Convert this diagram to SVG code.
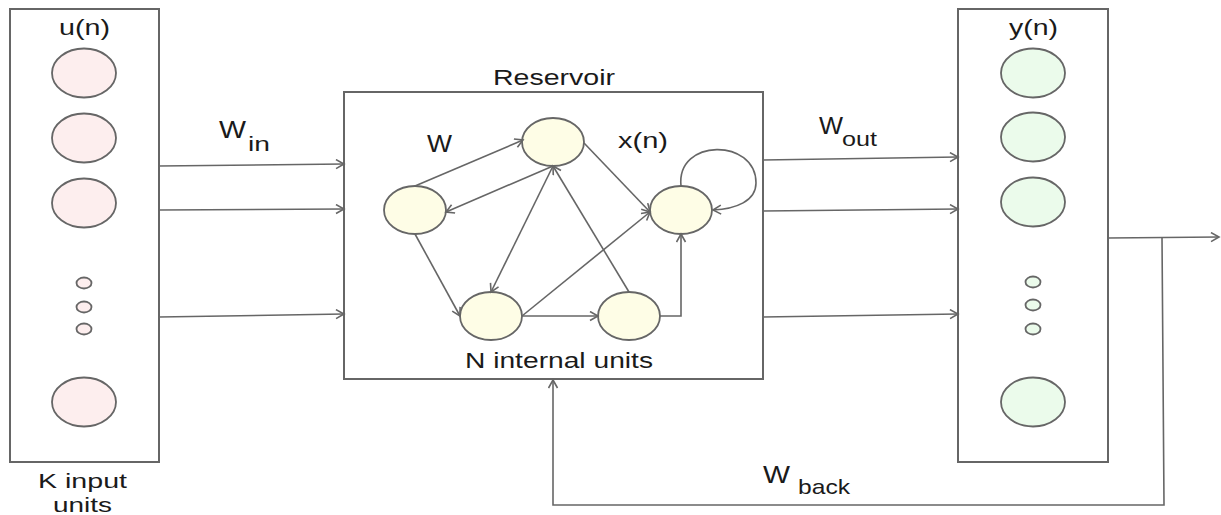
<svg xmlns="http://www.w3.org/2000/svg" width="1221" height="515" viewBox="0 0 1221 515">
<style>
.box{fill:#fff;stroke:#666;stroke-width:2}
.in{fill:#fdeeee;stroke:#666;stroke-width:1.8}
.res{fill:#fefde6;stroke:#666;stroke-width:1.8}
.out{fill:#ebfbeb;stroke:#666;stroke-width:1.8}
.c{fill:none;stroke:#666;stroke-width:1.6}
.a{marker-end:url(#arr)}
text{font-family:"Liberation Sans",Arial,sans-serif;font-size:22px;fill:#1a1a1a}
.w{font-size:24px}
.sub{font-size:21px}
.k{font-size:21px}
</style>
<defs>
<marker id="arr" markerUnits="userSpaceOnUse" markerWidth="12" markerHeight="12" refX="9" refY="5" orient="auto">
<path d="M1,0.5 L9,5 L1,9.5" fill="none" stroke="#666" stroke-width="1.6"/>
</marker>
</defs>

<g id="input-layer">
<rect class="box" x="10" y="9" width="149" height="453"/>
<text x="59" y="35" textLength="51" lengthAdjust="spacingAndGlyphs">u(n)</text>
<ellipse class="in" cx="84" cy="73" rx="32" ry="24.5"/>
<ellipse class="in" cx="84" cy="138" rx="32" ry="24.5"/>
<ellipse class="in" cx="84" cy="203" rx="32" ry="24.5"/>
<ellipse class="in" cx="84" cy="283" rx="7.5" ry="5.5"/>
<ellipse class="in" cx="84" cy="307" rx="7.5" ry="5.5"/>
<ellipse class="in" cx="84" cy="329" rx="7.5" ry="5.5"/>
<ellipse class="in" cx="84" cy="402" rx="32" ry="24.5"/>
<text class="k" x="38" y="488" textLength="89" lengthAdjust="spacingAndGlyphs">K input</text>
<text class="k" x="53" y="512" textLength="59" lengthAdjust="spacingAndGlyphs">units</text>
</g>

<g id="reservoir">
<rect class="box" x="344" y="92" width="419" height="287"/>
<text x="493" y="85" textLength="122" lengthAdjust="spacingAndGlyphs">Reservoir</text>
<text class="w" x="427" y="152" textLength="25" lengthAdjust="spacingAndGlyphs">W</text>
<text x="618" y="148" textLength="50" lengthAdjust="spacingAndGlyphs">x(n)</text>
<text x="465" y="368" textLength="188" lengthAdjust="spacingAndGlyphs">N internal units</text>
</g>

<g id="node-top"><ellipse class="res" cx="553" cy="142" rx="31" ry="24"/></g>
<g id="node-left"><ellipse class="res" cx="415" cy="210" rx="31" ry="24"/></g>
<g id="node-right"><ellipse class="res" cx="681" cy="210" rx="31" ry="24"/></g>
<g id="node-bottom-left"><ellipse class="res" cx="491" cy="316" rx="31" ry="24"/></g>
<g id="node-bottom-right"><ellipse class="res" cx="629" cy="316" rx="31" ry="24"/></g>

<g id="output-layer">
<rect class="box" x="958" y="9" width="150" height="453"/>
<text x="1009" y="35" textLength="49" lengthAdjust="spacingAndGlyphs">y(n)</text>
<ellipse class="out" cx="1033" cy="73" rx="32" ry="24.5"/>
<ellipse class="out" cx="1033" cy="137" rx="32" ry="24.5"/>
<ellipse class="out" cx="1033" cy="202" rx="32" ry="24.5"/>
<ellipse class="out" cx="1033" cy="282" rx="7.5" ry="5.5"/>
<ellipse class="out" cx="1033" cy="305" rx="7.5" ry="5.5"/>
<ellipse class="out" cx="1033" cy="329" rx="7.5" ry="5.5"/>
<ellipse class="out" cx="1033" cy="402" rx="32" ry="24.5"/>
</g>

<g id="connectors">
<path class="c a" d="M159,166 L344,164"/>
<path class="c a" d="M159,210 L344,209"/>
<path class="c a" d="M159,317 L344,314"/>
<path class="c a" d="M763,160 L958,157"/>
<path class="c a" d="M763,211 L958,209"/>
<path class="c a" d="M763,317 L958,314"/>
<path class="c a" d="M415,186 L523,140"/>
<path class="c a" d="M553,166 L446,212"/>
<path class="c a" d="M415,234 L460,316"/>
<path class="c a" d="M553,166 L491,292"/>
<path class="c a" d="M584,143 L650,212"/>
<path class="c a" d="M629,292 L553,166"/>
<path class="c a" d="M522,316 L650,212"/>
<path class="c a" d="M522,316 L598,316"/>
<path class="c a" d="M660,316 L681,316 L681,234"/>
<path class="c a" d="M681,186 C676,138 756,138 756,183 C756,201 736,209 713,210"/>
<path class="c a" d="M1108,238 L1219,237"/>
<path class="c a" d="M1162,237 L1164,505 L553,505 L553,380"/>
</g>

<g id="labels">
<text class="w" x="219" y="138" textLength="27" lengthAdjust="spacingAndGlyphs">W</text>
<text class="sub" x="248" y="151" textLength="22" lengthAdjust="spacingAndGlyphs">in</text>
<text class="w" x="819" y="134" textLength="24" lengthAdjust="spacingAndGlyphs">W</text>
<text class="sub" x="842" y="146" textLength="35" lengthAdjust="spacingAndGlyphs">out</text>
<text class="w" x="763" y="483" textLength="27" lengthAdjust="spacingAndGlyphs">W</text>
<text class="sub" x="798" y="494" textLength="52" lengthAdjust="spacingAndGlyphs">back</text>
</g>
</svg>
